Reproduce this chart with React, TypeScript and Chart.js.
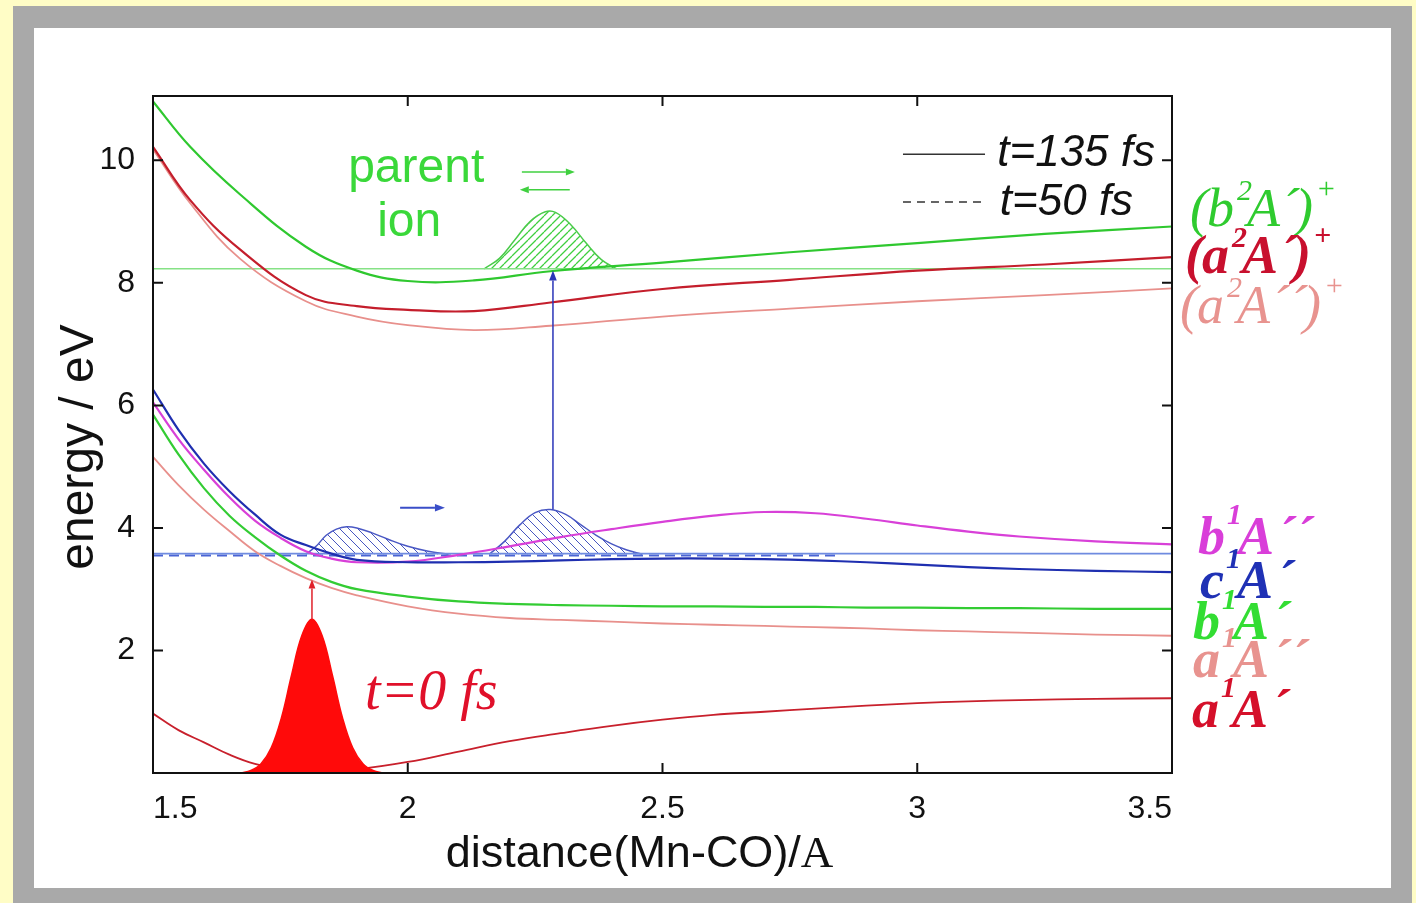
import React, { useEffect, useRef } from "react";
import { Chart, registerables } from "chart.js";
Chart.register(...registerables);

const SANS = "'Liberation Sans', Arial, Helvetica, sans-serif";
const SERIF = "'Liberation Serif', 'Times New Roman', serif";

// ---------- axis ----------
const X_MIN = 1.5, X_MAX = 3.5, X_STEP = 0.5;
const Y_MIN = 0, Y_MAX = 11.05, Y_STEP = 2;

// ---------- ion states (upper group) ----------
const ionX = [1.5, 1.573, 1.67, 1.8, 1.9, 2.0, 2.13, 2.28, 2.5, 2.75, 3.0, 3.25, 3.5];
const ionB2Ap = [10.96, 10.22, 9.45, 8.59, 8.2, 8.03, 8.04, 8.19, 8.33, 8.5, 8.65, 8.8, 8.92];
const ionA2Ap = [10.22, 9.35, 8.55, 7.8, 7.62, 7.56, 7.54, 7.68, 7.9, 8.05, 8.2, 8.3, 8.42];
const ionA2App = [10.18, 9.3, 8.4, 7.7, 7.45, 7.31, 7.23, 7.3, 7.45, 7.58, 7.7, 7.8, 7.91];

// ---------- neutral states (lower group) ----------
const neuX = [1.5, 1.55, 1.6, 1.65, 1.7, 1.75, 1.8, 1.85, 1.9, 2.0, 2.1, 2.2, 2.3, 2.4, 2.5, 2.6, 2.7, 2.8, 2.9, 3.0, 3.1, 3.2, 3.35, 3.5];
const neuC1Ap = [6.26, 5.6, 5.05, 4.6, 4.22, 3.89, 3.72, 3.58, 3.48, 3.44, 3.44, 3.45, 3.47, 3.49, 3.5, 3.5, 3.49, 3.47, 3.44, 3.4, 3.36, 3.33, 3.3, 3.28];
const neuB1App = [6.05, 5.45, 4.95, 4.5, 4.12, 3.84, 3.62, 3.5, 3.44, 3.45, 3.56, 3.7, 3.85, 3.98, 4.1, 4.2, 4.26, 4.24, 4.15, 4.04, 3.94, 3.86, 3.78, 3.73];
const neuB1Ap = [5.85, 5.2, 4.65, 4.2, 3.85, 3.55, 3.3, 3.12, 3.0, 2.88, 2.8, 2.76, 2.74, 2.73, 2.72, 2.72, 2.71, 2.71, 2.7, 2.7, 2.69, 2.69, 2.68, 2.68];
const neuA1App = [5.16, 4.7, 4.3, 3.95, 3.62, 3.38, 3.18, 3.02, 2.9, 2.72, 2.6, 2.53, 2.5, 2.47, 2.44, 2.42, 2.4, 2.38, 2.36, 2.33, 2.31, 2.29, 2.26, 2.24];
const neuA1Ap = [0.97, 0.7, 0.5, 0.3, 0.15, 0.08, 0.06, 0.05, 0.06, 0.18, 0.35, 0.52, 0.65, 0.77, 0.87, 0.95, 1.0, 1.05, 1.1, 1.14, 1.17, 1.19, 1.21, 1.22];

// ---------- reference levels ----------
const ionLevelX = [1.5, 3.5];
const ionLevelY = [8.23, 8.23];
const blueLevelX = [1.5, 3.5];
const blueLevelY = [3.58, 3.58];
const blueDashX = [1.5, 2.85];
const blueDashY = [3.55, 3.55];

// ---------- wave packets ----------
const wp0X = [1.672, 1.692, 1.712, 1.732, 1.752, 1.772, 1.792, 1.812, 1.832, 1.852, 1.872, 1.892, 1.912, 1.932, 1.952];
const wp0Y = [0.0, 0.04, 0.15, 0.41, 0.9, 1.6, 2.24, 2.51, 2.24, 1.6, 0.9, 0.41, 0.15, 0.04, 0.0];
const wp50X = [1.8, 1.82, 1.84, 1.86, 1.88, 1.9, 1.93, 1.96, 2.0, 2.04, 2.08];
const wp50Y = [3.57, 3.7, 3.88, 3.98, 4.02, 4.0, 3.92, 3.82, 3.7, 3.62, 3.57];
const wp135X = [2.16, 2.19, 2.22, 2.25, 2.28, 2.31, 2.34, 2.37, 2.4, 2.43, 2.46];
const wp135Y = [3.57, 3.78, 4.05, 4.25, 4.3, 4.22, 4.05, 3.88, 3.74, 3.64, 3.57];
const wpIonX = [2.15, 2.18, 2.21, 2.24, 2.27, 2.29, 2.32, 2.35, 2.38, 2.41];
const wpIonY = [8.23, 8.4, 8.7, 9.0, 9.16, 9.15, 8.95, 8.65, 8.38, 8.23];

// ---------- arrows [x1, y1, x2, y2] in data units ----------
const arrowRedUp = [1.812, 2.51, 1.812, 3.16];
const arrowBlueUp = [2.285, 4.3, 2.285, 8.2];
const arrowBlueRight = [1.985, 4.33, 2.073, 4.33];
const arrowGreenRight = [2.224, 9.81, 2.328, 9.81];
const arrowGreenLeft = [2.318, 9.52, 2.22, 9.52];

// ---------- texts ----------
const noteParent = { text: "parent", x: 1.883, y: 9.65 };
const noteIon = { text: "ion", x: 1.94, y: 8.77 };
const noteT0 = { text: "t=0 fs", x: 1.916, y: 1.05 };
const legendSolid = { text: "t=135 fs", x1: 2.972, x2: 3.133, y: 10.1, tx: 3.157, ty: 9.91 };
const legendDash = { text: "t=50 fs", x1: 2.972, x2: 3.133, y: 9.32, tx: 3.162, ty: 9.1 };
const xTitleMain = "distance(Mn-CO)/";
const xTitleUnit = "A";
const yTitle = "energy / eV";

type Part = [string, "M" | "S", number, number];
const stateLabels: { y: number; color: string; bold: boolean; off: number; parts: Part[] }[] = [
  { y: 8.92, color: "#2FCB2F", bold: false, off: 18, parts: [["(", "M", 0, 0], ["b", "M", -1, 0], ["2", "S", 3, -26], ["A", "M", -5, 0], ["\u00B4", "M", 1, 0], [")", "M", -4, 0], ["+", "S", 3, -28]] },
  { y: 8.16, color: "#C8102E", bold: true, off: 13, parts: [["(", "M", 0, 0], ["a", "M", -1, 0], ["2", "S", 3, -26], ["A", "M", -5, 0], ["\u00B4", "M", 1, 0], [")", "M", -4, 0], ["+", "S", 3, -28]] },
  { y: 7.35, color: "#E8938F", bold: false, off: 8, parts: [["(", "M", 0, 0], ["a", "M", -1, 0], ["2", "S", 3, -26], ["A", "M", -5, 0], ["\u00B4\u00B4", "M", 1, 0], [")", "M", -4, 0], ["+", "S", 3, -28]] },
  { y: 3.57, color: "#D93ED9", bold: true, off: 26, parts: [["b", "M", 0, 0], ["1", "S", 2, -30], ["A", "M", -4, 0], ["\u00B4\u00B4", "M", 3, 0]] },
  { y: 2.85, color: "#1F31B5", bold: true, off: 28, parts: [["c", "M", 0, 0], ["1", "S", 2, -30], ["A", "M", -4, 0], ["\u00B4", "M", 3, 0]] },
  { y: 2.19, color: "#33DD33", bold: true, off: 21, parts: [["b", "M", 0, 0], ["1", "S", 2, -30], ["A", "M", -4, 0], ["\u00B4", "M", 3, 0]] },
  { y: 1.56, color: "#E8938F", bold: true, off: 21, parts: [["a", "M", 0, 0], ["1", "S", 2, -30], ["A", "M", -4, 0], ["\u00B4\u00B4", "M", 3, 0]] },
  { y: 0.75, color: "#D5102A", bold: true, off: 20, parts: [["a", "M", 0, 0], ["1", "S", 2, -30], ["A", "M", -4, 0], ["\u00B4", "M", 3, 0]] },
];

const pts = (xs: number[], ys: number[]) => xs.map((x, i) => ({ x, y: ys[i] }));

function lineDs(xs: number[], ys: number[], color: string, width: number, extra: any = {}) {
  return {
    data: pts(xs, ys),
    borderColor: color,
    borderWidth: width,
    pointRadius: 0,
    fill: false,
    tension: 0.4,
    order: 1,
    ...extra,
  };
}

function hatch(color: string, size: number, lw: number, dir: "back" | "fwd") {
  const c = document.createElement("canvas");
  c.width = size;
  c.height = size;
  const g = c.getContext("2d")!;
  g.strokeStyle = color;
  g.lineWidth = lw;
  g.beginPath();
  for (let k = -1; k <= 1; k++) {
    if (dir === "back") {
      g.moveTo(k * size, 0);
      g.lineTo(k * size + size, size);
    } else {
      g.moveTo(k * size, size);
      g.lineTo(k * size + size, 0);
    }
  }
  g.stroke();
  return g.createPattern(c, "repeat")!;
}

function drawArrow(ctx: CanvasRenderingContext2D, x1: number, y1: number, x2: number, y2: number, color: string, lw: number, head: number) {
  ctx.strokeStyle = color;
  ctx.fillStyle = color;
  ctx.lineWidth = lw;
  const a = Math.atan2(y2 - y1, x2 - x1);
  const bx = x2 - head * Math.cos(a), by = y2 - head * Math.sin(a);
  ctx.beginPath();
  ctx.moveTo(x1, y1);
  ctx.lineTo(bx, by);
  ctx.stroke();
  const w = head * 0.38;
  ctx.beginPath();
  ctx.moveTo(x2, y2);
  ctx.lineTo(bx + w * Math.sin(a), by - w * Math.cos(a));
  ctx.lineTo(bx - w * Math.sin(a), by + w * Math.cos(a));
  ctx.closePath();
  ctx.fill();
}

const bgPlugin = {
  id: "bgFrame",
  beforeDraw(chart: any) {
    const ctx = chart.ctx as CanvasRenderingContext2D;
    ctx.save();
    ctx.fillStyle = "#FFFDC6";
    ctx.fillRect(0, 0, chart.width, chart.height);
    ctx.fillStyle = "#A9A9A9";
    ctx.fillRect(13, 6, 1399, 910);
    ctx.fillStyle = "#FFFFFF";
    ctx.fillRect(34, 28, 1357, 860);
    ctx.restore();
  },
};

const annotPlugin = {
  id: "annot",
  afterDraw(chart: any) {
    const ctx = chart.ctx as CanvasRenderingContext2D;
    const ca = chart.chartArea;
    const xs = chart.scales.x, ys = chart.scales.y;
    const X = (v: number) => xs.getPixelForValue(v);
    const Y = (v: number) => ys.getPixelForValue(v);
    ctx.save();

    // frame + inward ticks
    ctx.strokeStyle = "#111";
    ctx.lineWidth = 2;
    ctx.strokeRect(ca.left, ca.top, ca.right - ca.left, ca.bottom - ca.top);
    ctx.beginPath();
    for (const t of xs.ticks) {
      const p = X(t.value);
      ctx.moveTo(p, ca.bottom); ctx.lineTo(p, ca.bottom - 10);
      ctx.moveTo(p, ca.top); ctx.lineTo(p, ca.top + 10);
    }
    for (const t of ys.ticks) {
      if (t.value === 0) continue;
      const p = Y(t.value);
      ctx.moveTo(ca.left, p); ctx.lineTo(ca.left + 10, p);
      ctx.moveTo(ca.right, p); ctx.lineTo(ca.right - 10, p);
    }
    ctx.stroke();

    // arrows
    const A = (a: number[], color: string, lw: number, head: number) =>
      drawArrow(ctx, X(a[0]), Y(a[1]), X(a[2]), Y(a[3]), color, lw, head);
    A(arrowRedUp, "#E0202A", 1.5, 9);
    A(arrowBlueUp, "#2A34B8", 1.5, 10);
    A(arrowBlueRight, "#3A4EC8", 2, 10);
    A(arrowGreenRight, "#40D040", 1.5, 9);
    A(arrowGreenLeft, "#40D040", 1.5, 9);

    // annotations
    ctx.textBaseline = "alphabetic";
    ctx.textAlign = "left";
    ctx.fillStyle = "#3AD83A";
    ctx.font = `48px ${SANS}`;
    ctx.fillText(noteParent.text, X(noteParent.x), Y(noteParent.y));
    ctx.fillText(noteIon.text, X(noteIon.x), Y(noteIon.y));
    ctx.fillStyle = "#E0102A";
    ctx.font = `italic 56px ${SERIF}`;
    ctx.fillText(noteT0.text, X(noteT0.x), Y(noteT0.y));

    // legend
    ctx.strokeStyle = "#333";
    ctx.lineWidth = 1.5;
    ctx.beginPath();
    ctx.moveTo(X(legendSolid.x1), Y(legendSolid.y));
    ctx.lineTo(X(legendSolid.x2), Y(legendSolid.y));
    ctx.stroke();
    ctx.setLineDash([8, 6]);
    ctx.beginPath();
    ctx.moveTo(X(legendDash.x1), Y(legendDash.y));
    ctx.lineTo(X(legendDash.x2), Y(legendDash.y));
    ctx.stroke();
    ctx.setLineDash([]);
    ctx.fillStyle = "#111";
    ctx.font = `italic 44px ${SANS}`;
    ctx.fillText(legendSolid.text, X(legendSolid.tx), Y(legendSolid.ty));
    ctx.fillText(legendDash.text, X(legendDash.tx), Y(legendDash.ty));

    // state labels
    for (const L of stateLabels) {
      const fm = `${L.bold ? "bold " : ""}italic 54px ${SERIF}`;
      const fs = `${L.bold ? "bold " : ""}italic 30px ${SERIF}`;
      let x = ca.right + L.off;
      const base = Y(L.y);
      ctx.fillStyle = L.color;
      for (const [t, f, dx, dy] of L.parts) {
        ctx.font = f === "M" ? fm : fs;
        x += dx;
        ctx.fillText(t, x, base + dy);
        x += ctx.measureText(t).width;
      }
    }

    // axis titles
    ctx.fillStyle = "#111";
    ctx.font = `45px ${SANS}`;
    const w1 = ctx.measureText(xTitleMain).width;
    ctx.font = `45px ${SERIF}`;
    const w2 = ctx.measureText(xTitleUnit).width;
    const cx = X(2.455);
    const bx = cx - (w1 + w2) / 2;
    ctx.font = `45px ${SANS}`;
    ctx.fillText(xTitleMain, bx, ca.bottom + 94);
    ctx.font = `45px ${SERIF}`;
    ctx.fillText(xTitleUnit, bx + w1, ca.bottom + 94);

    ctx.save();
    ctx.translate(ca.left - 60, ca.top + 351);
    ctx.rotate(-Math.PI / 2);
    ctx.font = `48px ${SANS}`;
    ctx.textAlign = "center";
    ctx.fillText(yTitle, 0, 0);
    ctx.restore();

    ctx.restore();
  },
};

export default function App() {
  const ref = useRef<HTMLCanvasElement | null>(null);
  useEffect(() => {
    const canvas = ref.current!;
    const blueHatch = hatch("#4756C0", 9, 1, "back");
    const greenHatch = hatch("#3FCF3F", 8, 1.3, "fwd");

    const datasets: any[] = [
      lineDs(ionX, ionB2Ap, "#2FC82F", 2.2),
      lineDs(ionX, ionA2Ap, "#C41E2C", 2.2),
      lineDs(ionX, ionA2App, "#E8908C", 1.8),
      lineDs(neuX, neuC1Ap, "#1F2FB0", 2.2),
      lineDs(neuX, neuB1App, "#D840D8", 2.2),
      lineDs(neuX, neuB1Ap, "#33CC33", 2.2),
      lineDs(neuX, neuA1App, "#E8908C", 1.8),
      lineDs(neuX, neuA1Ap, "#C8202C", 1.8),
      lineDs(ionLevelX, ionLevelY, "#86E286", 1.6, { order: 2, tension: 0 }),
      lineDs(blueLevelX, blueLevelY, "#6F8BE0", 1.6, { order: 2, tension: 0 }),
      lineDs(blueDashX, blueDashY, "#4A64D4", 2, { order: 2, tension: 0, borderDash: [10, 6] }),
      lineDs(wp0X, wp0Y, "#FF0A0A", 1.5, { fill: "origin", backgroundColor: "#FF0A0A", order: 0 }),
      lineDs(wp50X, wp50Y, "#4A58C4", 1.5, { fill: { value: 3.57 }, backgroundColor: blueHatch, order: 3 }),
      lineDs(wp135X, wp135Y, "#4A58C4", 1.5, { fill: { value: 3.57 }, backgroundColor: blueHatch, order: 3 }),
      lineDs(wpIonX, wpIonY, "#4ACB4A", 1.5, { fill: { value: 8.23 }, backgroundColor: greenHatch, order: 3 }),
    ];

    const tickFont = { family: SANS, size: 32 };
    const chart = new Chart(canvas, {
      type: "line",
      data: { datasets },
      options: {
        responsive: false,
        animation: false,
        devicePixelRatio: 1,
        layout: { padding: { left: 0, right: 244, top: 96, bottom: 0 } },
        plugins: { legend: { display: false }, tooltip: { enabled: false }, title: { display: false } },
        scales: {
          x: {
            type: "linear",
            min: X_MIN,
            max: X_MAX,
            grid: { display: false },
            border: { display: false },
            ticks: {
              stepSize: X_STEP,
              align: "inner",
              padding: 9,
              color: "#111",
              font: tickFont,
              maxRotation: 0,
              autoSkip: false,
              callback: (v: any) => String(v),
            },
            afterFit: (s: any) => { s.height = 130; },
          },
          y: {
            type: "linear",
            min: Y_MIN,
            max: Y_MAX,
            grid: { display: false },
            border: { display: false },
            ticks: {
              stepSize: Y_STEP,
              includeBounds: false,
              padding: 10,
              color: "#111",
              font: tickFont,
              callback: (v: any) => (v === 0 ? "" : String(v)),
            },
            afterFit: (s: any) => { s.width = 153; },
          },
        },
      } as any,
      plugins: [bgPlugin, annotPlugin],
    });
    return () => chart.destroy();
  }, []);

  return (
    <div style={{ position: "fixed", left: 0, top: 0, width: 1416, height: 903, overflow: "hidden" }}>
      <canvas ref={ref} width={1416} height={903} style={{ display: "block", width: 1416, height: 903 }} />
    </div>
  );
}
